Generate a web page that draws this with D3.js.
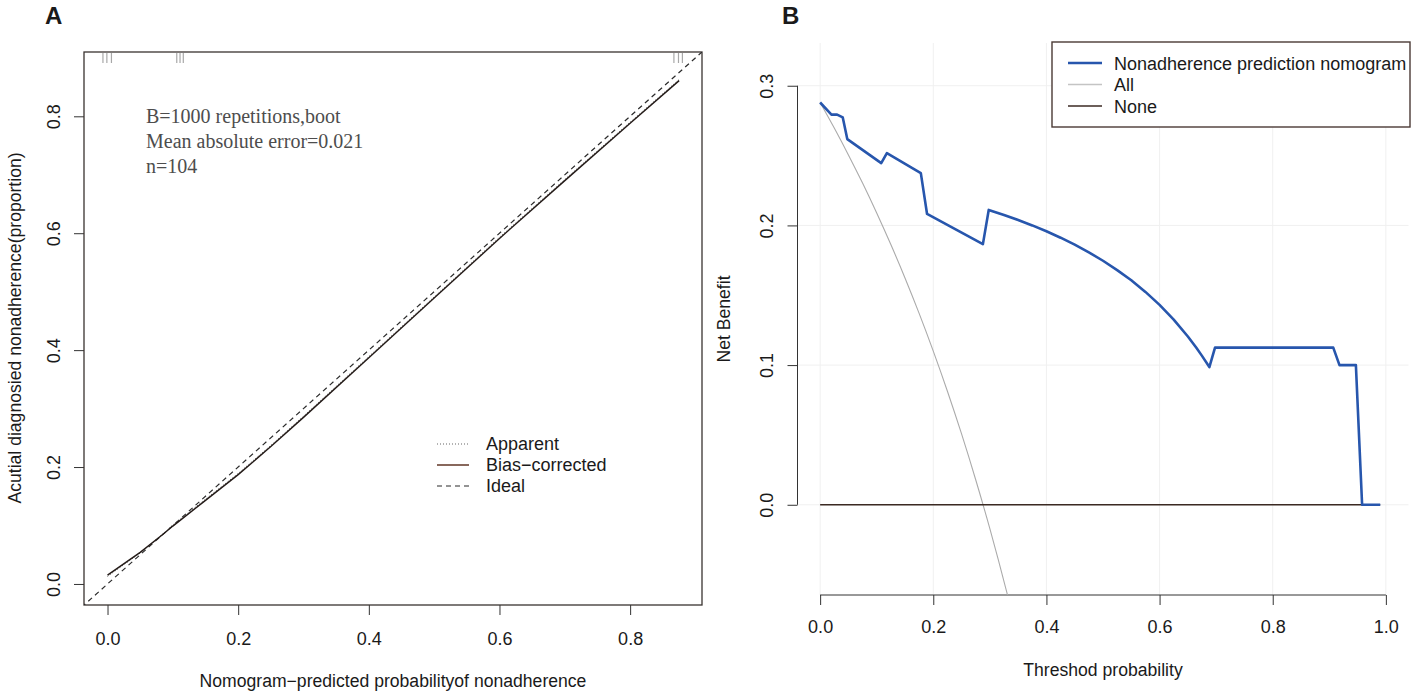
<!DOCTYPE html>
<html>
<head>
<meta charset="utf-8">
<script src="https://cdn.jsdelivr.net/npm/d3@7"></script>
<style>
	body { margin: 0; background: #fff; }
	text { font-family: "Liberation Sans", Arial, sans-serif; fill: #1a1a1a; }
</style>
</head>
<body>
<div id="chart"></div>
<script>
var width = 1417;
var height = 694;

// panel A : calibration curve
var calX = [0, 0.05, 0.085, 0.1, 0.15, 0.2, 0.25, 0.3, 0.4, 0.5, 0.6, 0.7, 0.8, 0.875];
var calBias = [0.015, 0.054, 0.085, 0.099, 0.143, 0.187, 0.235, 0.285, 0.387, 0.489, 0.591, 0.690, 0.788, 0.861];
var calApparent = [0.013, 0.053, 0.086, 0.101, 0.145, 0.189, 0.237, 0.287, 0.389, 0.491, 0.593, 0.692, 0.790, 0.863];
var idealX = [-0.05, 0.95];
var rugX = [-0.007, -0.001, 0.006, 0.106, 0.111, 0.116, 0.867, 0.874, 0.880];
var ticksA = [0, 0.2, 0.4, 0.6, 0.8];
var legendA = ["Apparent", "Bias\u2212corrected", "Ideal"];
var noteA = ["B=1000 repetitions,boot", "Mean absolute error=0.021", "n=104"];

// panel B : decision curve
var dcaT = [0, 0.02, 0.03, 0.04, 0.048, 0.108, 0.118, 0.178, 0.189, 0.2877, 0.298, 0.325, 0.35, 0.375, 0.4, 0.425,
	0.45, 0.475, 0.5, 0.525, 0.55, 0.575, 0.6, 0.625, 0.65, 0.665, 0.675, 0.688, 0.698, 0.907, 0.918, 0.947, 0.958, 0.99];
var dcaModel = [0.288, 0.2793, 0.2793, 0.2773, 0.2618, 0.2446, 0.2517, 0.2374, 0.2082, 0.1866, 0.2111, 0.2075, 0.2039, 0.2000, 0.1958, 0.1912,
	0.1862, 0.1807, 0.1747, 0.1680, 0.1607, 0.1524, 0.1431, 0.1326, 0.1205, 0.1124, 0.1066, 0.0986, 0.1125, 0.1125, 0.100, 0.100, 0.0, 0.0];
var allT = [0, 0.025, 0.05, 0.075, 0.1, 0.125, 0.15, 0.175, 0.2, 0.225, 0.25, 0.275, 0.3, 0.315, 0.33, 0.34];
var allNB = [0.288, 0.2697, 0.2505, 0.2303, 0.2089, 0.1863, 0.1624, 0.1370, 0.110, 0.0813, 0.0507, 0.0179, -0.0171, -0.0394, -0.0627, -0.079];
var noneT = [0, 0.99];
var noneNB = [0, 0];
var ticksBx = [0, 0.2, 0.4, 0.6, 0.8, 1.0];
var ticksBy = [0, 0.1, 0.2, 0.3];
var legendB = ["Nonadherence prediction nomogram", "All", "None"];
var colorsB = ["#2756ad", "#c4c4c4", "#3b2a23"];

var svg = d3.select("#chart")
	.append("svg")
	.attr("width", width)
	.attr("height", height);

var fmt = d3.format(".1f");

// ---------- panel A ----------
var xA = d3.scaleLinear().domain([-0.036, 0.91]).range([84, 702]);
var yA = d3.scaleLinear().domain([-0.036, 0.91]).range([605, 52]);

svg.append("clipPath").attr("id", "clipA")
	.append("rect")
	.attr("x", 84).attr("y", 52)
	.attr("width", 618).attr("height", 553);

svg.append("text")
	.attr("x", 45).attr("y", 24)
	.style("font-size", "24px")
	.style("font-weight", "bold")
	.text("A");

var gxA = svg.append("g")
	.attr("transform", "translate(0,605)")
	.call(d3.axisBottom(xA).tickValues(ticksA).tickFormat(fmt).tickSize(10).tickSizeOuter(0));
gxA.select(".domain").remove();
gxA.selectAll("line").attr("stroke", "#333");
gxA.selectAll("text")
	.attr("y", 40).attr("dy", null)
	.style("font-size", "18px");

var gyA = svg.append("g")
	.attr("transform", "translate(84,0)")
	.call(d3.axisLeft(yA).tickValues(ticksA).tickFormat(fmt).tickSize(10).tickSizeOuter(0));
gyA.select(".domain").remove();
gyA.selectAll("line").attr("stroke", "#333");
gyA.selectAll("text")
	.attr("x", null).attr("dy", null)
	.attr("text-anchor", "middle")
	.attr("transform", "translate(-24,0) rotate(-90)")
	.style("font-size", "18px");

svg.append("rect")
	.attr("x", 84).attr("y", 52)
	.attr("width", 618).attr("height", 553)
	.attr("fill", "none")
	.attr("stroke", "#3a3330")
	.attr("stroke-width", 1.3);

svg.append("text")
	.attr("x", 393).attr("y", 687)
	.attr("text-anchor", "middle")
	.style("font-size", "17.6px")
	.text("Nomogram\u2212predicted probabilityof nonadherence");

svg.append("text")
	.attr("transform", "translate(21,328) rotate(-90)")
	.attr("text-anchor", "middle")
	.style("font-size", "17.6px")
	.text("Acutial diagnosied nonadherence(proportion)");

// rug of predictions on top
svg.selectAll(".rug")
	.data(rugX)
	.enter()
	.append("line")
	.attr("class", "rug")
	.attr("x1", function(d){ return xA(d); })
	.attr("x2", function(d){ return xA(d); })
	.attr("y1", 53).attr("y2", 63)
	.attr("stroke", "#a8a8a8")
	.attr("stroke-width", 1.2);

var lineA = d3.line()
	.x(function(d){ return xA(d[0]); })
	.y(function(d){ return yA(d[1]); });

var plotA = svg.append("g").attr("clip-path", "url(#clipA)");

plotA.append("path")
	.attr("d", lineA(idealX.map(function(v){ return [v, v]; })))
	.attr("fill", "none")
	.attr("stroke", "#2b2b2b")
	.attr("stroke-width", 1.2)
	.attr("stroke-dasharray", "5,4");

plotA.append("path")
	.attr("d", lineA(d3.zip(calX, calApparent)))
	.attr("fill", "none")
	.attr("stroke", "#444")
	.attr("stroke-width", 1)
	.attr("stroke-dasharray", "1,2");

plotA.append("path")
	.attr("d", lineA(d3.zip(calX, calBias)))
	.attr("fill", "none")
	.attr("stroke", "#231a17")
	.attr("stroke-width", 1.4);

// note text
svg.selectAll(".note")
	.data(noteA)
	.enter()
	.append("text")
	.attr("class", "note")
	.attr("x", 146)
	.attr("y", function(d, i){ return 123 + i * 25; })
	.style("font-family", "'Liberation Serif', 'DejaVu Serif', serif")
	.style("font-size", "20px")
	.style("fill", "#4d4d4d")
	.text(function(d){ return d; });

// legend A
var legA = svg.selectAll(".legA")
	.data(legendA)
	.enter()
	.append("g")
	.attr("class", "legA")
	.attr("transform", function(d, i){ return "translate(0," + (444 + i * 21) + ")"; });

legA.append("line")
	.attr("x1", 437).attr("x2", 469)
	.attr("stroke", function(d, i){ return ["#666", "#6b4334", "#2b2b2b"][i]; })
	.attr("stroke-width", function(d, i){ return i == 1 ? 1.6 : 1.1; })
	.attr("stroke-dasharray", function(d, i){ return ["1,2", null, "5,4"][i]; });

legA.append("text")
	.attr("x", 486).attr("y", 6)
	.style("font-size", "18px")
	.text(function(d){ return d; });

// ---------- panel B ----------
var xB = d3.scaleLinear().domain([-0.04, 1.04]).range([797.5, 1408.5]);
var yB = d3.scaleLinear().domain([-0.0646, 0.3306]).range([595, 43]);

svg.append("clipPath").attr("id", "clipB")
	.append("rect")
	.attr("x", 797.5).attr("y", 43)
	.attr("width", 611).attr("height", 552);

svg.append("text")
	.attr("x", 782).attr("y", 24)
	.style("font-size", "24px")
	.style("font-weight", "bold")
	.text("B");

// faint grid
svg.selectAll(".gridx")
	.data(ticksBx)
	.enter()
	.append("line")
	.attr("class", "gridx")
	.attr("x1", function(d){ return xB(d); })
	.attr("x2", function(d){ return xB(d); })
	.attr("y1", 43).attr("y2", 595)
	.attr("stroke", "#f0f0f0");

svg.selectAll(".gridy")
	.data(ticksBy)
	.enter()
	.append("line")
	.attr("class", "gridy")
	.attr("x1", 797.5).attr("x2", 1408.5)
	.attr("y1", function(d){ return yB(d); })
	.attr("y2", function(d){ return yB(d); })
	.attr("stroke", "#f0f0f0");

var gxB = svg.append("g")
	.attr("transform", "translate(0,595)")
	.call(d3.axisBottom(xB).tickValues(ticksBx).tickFormat(fmt).tickSize(10).tickSizeOuter(0));
gxB.select(".domain").remove();
gxB.selectAll("line").attr("stroke", "#333");
gxB.selectAll("text")
	.attr("y", 38).attr("dy", null)
	.style("font-size", "18px");
gxB.append("line")
	.attr("x1", xB(ticksBx[0])).attr("x2", xB(ticksBx[ticksBx.length - 1]))
	.attr("stroke", "#333");

var gyB = svg.append("g")
	.attr("transform", "translate(797.5,0)")
	.call(d3.axisLeft(yB).tickValues(ticksBy).tickFormat(fmt).tickSize(10).tickSizeOuter(0));
gyB.select(".domain").remove();
gyB.selectAll("line").attr("stroke", "#333");
gyB.selectAll("text")
	.attr("x", null).attr("dy", null)
	.attr("text-anchor", "middle")
	.attr("transform", "translate(-24.5,0) rotate(-90)")
	.style("font-size", "18px");
gyB.append("line")
	.attr("y1", yB(ticksBy[0])).attr("y2", yB(ticksBy[ticksBy.length - 1]))
	.attr("stroke", "#333");

svg.append("text")
	.attr("x", 1103).attr("y", 676)
	.attr("text-anchor", "middle")
	.style("font-size", "17.6px")
	.text("Threshod probability");

svg.append("text")
	.attr("transform", "translate(730,319) rotate(-90)")
	.attr("text-anchor", "middle")
	.style("font-size", "17.6px")
	.text("Net Benefit");

var lineB = d3.line()
	.x(function(d){ return xB(d[0]); })
	.y(function(d){ return yB(d[1]); });

var plotB = svg.append("g").attr("clip-path", "url(#clipB)");

plotB.append("path")
	.attr("d", lineB.curve(d3.curveMonotoneX)(d3.zip(allT, allNB)))
	.attr("fill", "none")
	.attr("stroke", "#ababab")
	.attr("stroke-width", 1.1);

lineB.curve(d3.curveLinear);

plotB.append("path")
	.attr("d", lineB(d3.zip(noneT, noneNB)))
	.attr("fill", "none")
	.attr("stroke", colorsB[2])
	.attr("stroke-width", 1.4);

plotB.append("path")
	.attr("d", lineB(d3.zip(dcaT, dcaModel)))
	.attr("fill", "none")
	.attr("stroke", colorsB[0])
	.attr("stroke-width", 2.6)
	.attr("stroke-linejoin", "round");

// legend B
svg.append("rect")
	.attr("x", 1052).attr("y", 42)
	.attr("width", 358).attr("height", 85)
	.attr("fill", "#fff")
	.attr("stroke", "#4a3a35")
	.attr("stroke-width", 1.4);

var legB = svg.selectAll(".legB")
	.data(legendB)
	.enter()
	.append("g")
	.attr("class", "legB")
	.attr("transform", function(d, i){ return "translate(0," + (63 + i * 21.5) + ")"; });

legB.append("line")
	.attr("x1", 1068).attr("x2", 1102)
	.attr("stroke", function(d, i){ return colorsB[i]; })
	.attr("stroke-width", function(d, i){ return i == 0 ? 2.6 : 1.5; });

legB.append("text")
	.attr("x", 1114).attr("y", 6.5)
	.style("font-size", "18px")
	.text(function(d){ return d; });
</script>
</body>
</html>
